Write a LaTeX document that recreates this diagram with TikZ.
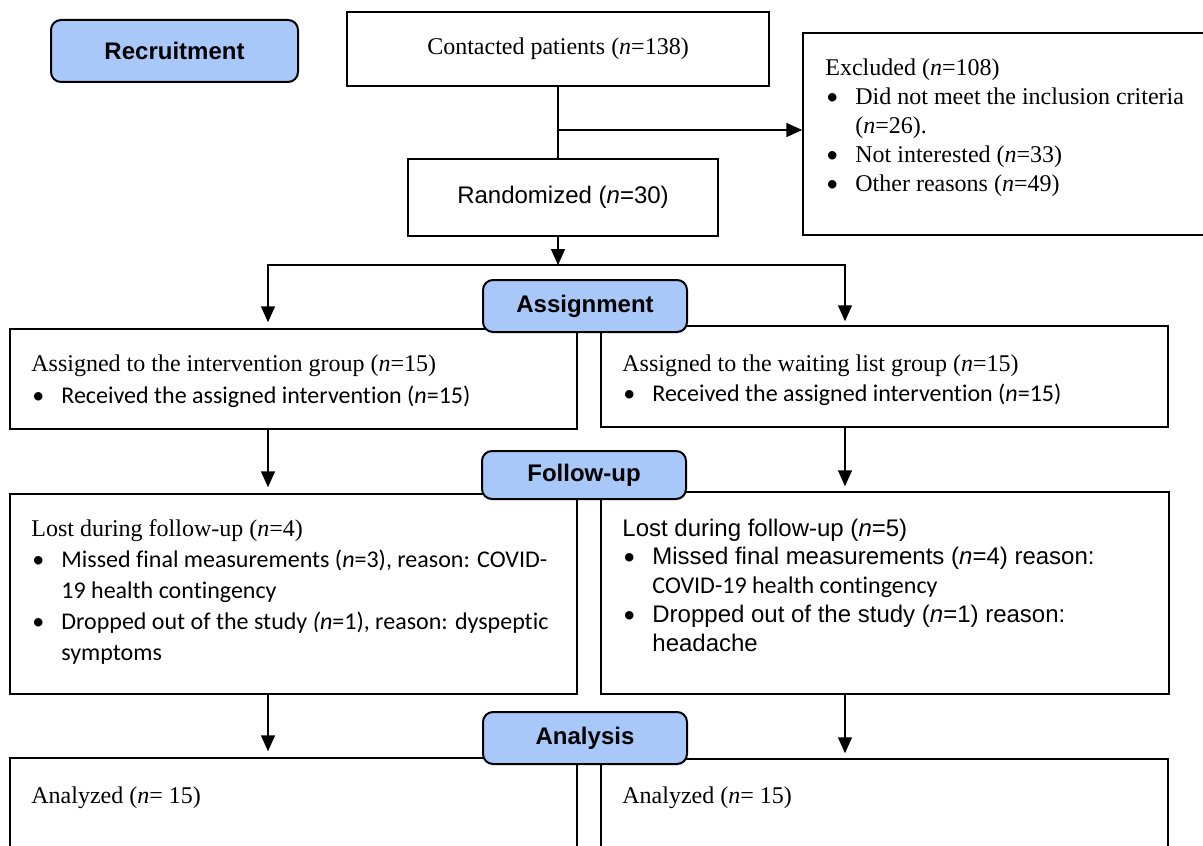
\documentclass[tikz,border=0pt]{standalone}
\usepackage{fontspec}
\setmainfont{Liberation Serif}
\newfontfamily\arial{Liberation Sans}
\newfontfamily\calibri[Ligatures=NoCommon]{Carlito}
\usetikzlibrary{arrows.meta}
\definecolor{phase}{RGB}{168,200,250}
\newcommand{\twelve}{\fontsize{12}{14.4}\selectfont}
\newcommand{\itm}{\makebox[15pt][l]{\hspace{0.5pt}{\calibri\textbullet}}}
\newcommand{\ind}{\hspace*{15pt}}

\begin{document}
\begin{tikzpicture}[x=0.5pt,y=-0.5pt]
    \tikzset{
        flownode/.style={draw=black,line width=0.75pt,fill=white,inner sep=0pt,font=\twelve},
        stagenode/.style={draw=black,line width=1pt,fill=phase,rounded corners=5pt,inner sep=0pt,
            minimum width=102pt,font=\twelve\arial\bfseries},
        textnode/.style={anchor=base west,inner sep=0pt,align=flush left,text width=#1},
        textnode/.default=270pt,
        arr/.style={-{Triangle[length=8pt,width=7pt]},line width=0.75pt},
    }
    \useasboundingbox (0,0) rectangle (1203,845);

    \node[flownode,minimum width=211pt,minimum height=37pt] (cont) at (558,49) {Contacted patients (\textit{n}=138)};
    \node[flownode,minimum width=201.5pt,minimum height=101pt] (excl) at (1004.5,134) {};
    \node[flownode,minimum width=155pt,minimum height=38.5pt] (rand) at (563,197.5) {\arial Randomized (\textit{n}=30)};
    \node[flownode,minimum width=283.5pt,minimum height=50pt] (int) at (293.5,379) {};
    \node[flownode,minimum width=283.5pt,minimum height=50.5pt] (wait) at (884.5,376.5) {};
    \node[flownode,minimum width=283.5pt,minimum height=100pt] (lostI) at (293.5,594) {};
    \node[flownode,minimum width=284pt,minimum height=101pt] (lostW) at (885,593) {};
    \node[flownode,minimum width=283.5pt,minimum height=47pt] (anI) at (293.5,805) {};
    \node[flownode,minimum width=283.5pt,minimum height=46.5pt] (anW) at (884.5,805.5) {};

    \node[stagenode,minimum width=123.5pt,minimum height=31pt] (recr) at (174.5,51) {Recruitment};
    \node[stagenode,minimum height=26pt] (asg) at (585,306) {Assignment};
    \node[stagenode,minimum height=24pt] (fol) at (584,475) {Follow-up};
    \node[stagenode,minimum height=26pt] (ana) at (585,738) {Analysis};

    \node[textnode=185pt,font=\fontsize{12}{14.5}\selectfont] (exclT) at (825,76) {Excluded (\textit{n}=108)\\
        \itm Did not meet the inclusion criteria\\
        \ind(\textit{n}=26).\\
        \itm Not interested (\textit{n}=33)\\
        \itm Other reasons (\textit{n}=49)};
    \node[textnode,font=\fontsize{12}{16}\selectfont] (intT) at (31,371) {Assigned to the intervention group (\textit{n}=15)\\
        {\calibri\itm Received the assigned intervention (\textit{n}=15)}};
    \node[textnode,font=\fontsize{12}{15}\selectfont] (waitT) at (622,371) {Assigned to the waiting list group (\textit{n}=15)\\
        {\calibri\itm Received the assigned intervention (\textit{n}=15)}};
    \node[textnode,font=\fontsize{12}{15.6}\selectfont] (lostIT) at (31,536) {Lost during follow-up (\textit{n}=4)\\
        {\calibri\itm Missed final measurements (\textit{n}=3), reason: COVID-}\\
        {\calibri\ind 19 health contingency}\\
        {\calibri\itm Dropped out of the study \textit{(n}=1), reason: dyspeptic}\\
        {\calibri\ind symptoms}};
    \node[textnode,font=\fontsize{12}{14.4}\selectfont] (lostWT) at (622,536) {{\arial Lost during follow-up (\textit{n}=5)}\\
        {\arial\itm Missed final measurements (\textit{n}=4) reason:}\\
        {\calibri\ind COVID-19 health contingency}\\
        {\arial\itm Dropped out of the study (\textit{n}=1) reason:}\\
        {\arial\ind headache}};
    \node[textnode,font=\twelve] (anIT) at (31,803) {Analyzed (\textit{n}= 15)};
    \node[textnode,font=\twelve] (anWT) at (622,803) {Analyzed (\textit{n}= 15)};

    \coordinate (exbr) at (558,130);
    \coordinate (split) at (558,265);
    \coordinate (colL) at (268,0);
    \coordinate (colR) at (845,0);

    \draw[line width=0.75pt] (cont.south) -- (cont.south |- rand.north);
    \draw[arr] (exbr) -- (exbr -| excl.west);
    \draw[arr] (cont.south |- rand.south) -- (split);
    \draw[arr,shorten >=3pt] (split) -| (colL |- int.north);
    \draw[arr,shorten >=2pt] (split) -| (colR |- wait.north);
    \draw[arr,shorten >=3pt] (colL |- int.south) -- (colL |- lostI.north);
    \draw[arr,shorten >=2.5pt] (colR |- wait.south) -- (colR |- lostW.north);
    \draw[arr,shorten >=3pt] (colL |- lostI.south) -- (colL |- anI.north);
    \draw[arr,shorten >=2.5pt] (colR |- lostW.south) -- (colR |- anW.north);
\end{tikzpicture}
\end{document}
